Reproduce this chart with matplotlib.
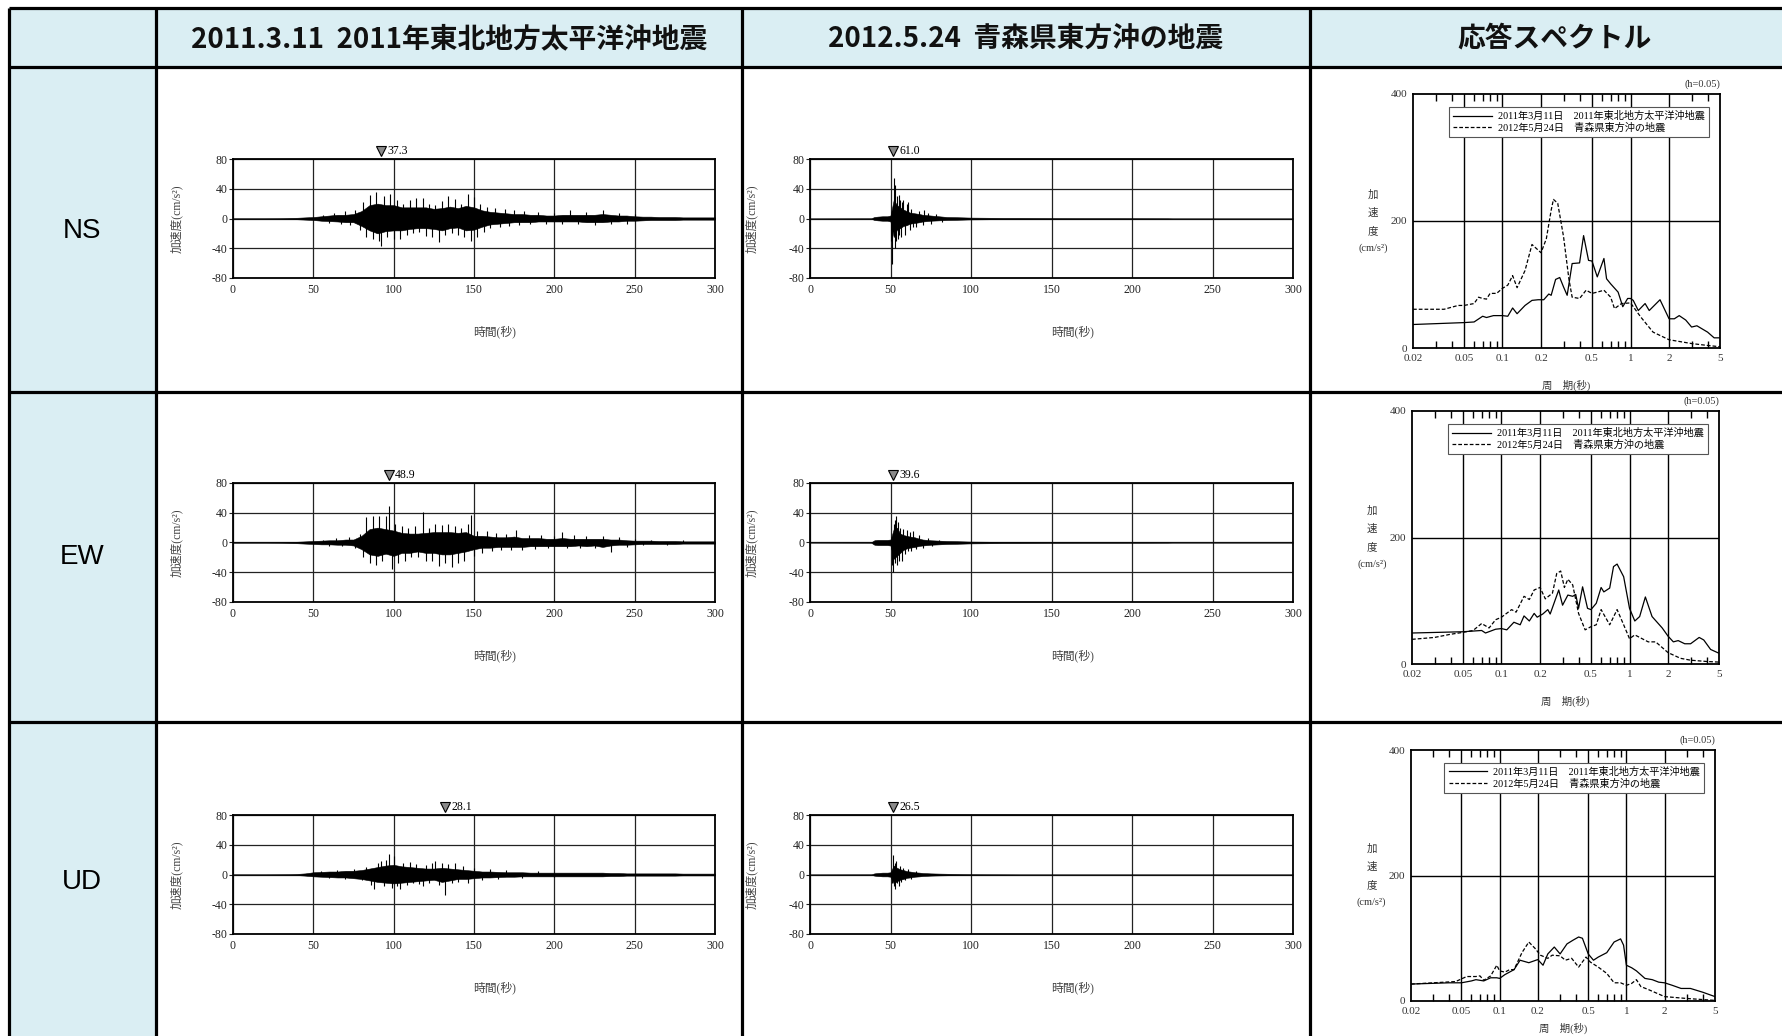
import numpy as np
import matplotlib
matplotlib.use("Agg")
import matplotlib.pyplot as plt
from matplotlib.patches import Rectangle
from matplotlib.ticker import LogLocator, NullFormatter
import matplotlib.transforms as mtrans

############### Data ###############

header_titles = ["2011.3.11  2011年東北地方太平洋沖地震",
                 "2012.5.24  青森県東方沖の地震",
                 "応答スペクトル"]
components = ["NS", "EW", "UD"]
legend_labels = ["2011年3月11日　2011年東北地方太平洋沖地震",
                 "2012年5月24日　青森県東方沖の地震"]

##### acceleration records (cm/s2): dense core of the trace + individual peaks
t_2011 = np.arange(0, 301, 5)

ns_2011_up = [0.3, 0.3, 0.3, 0.3, 0.3, 0.4, 0.5, 0.8, 1, 1.5, 2, 3, 4, 5, 5, 6, 10, 18, 20, 18,
              18, 15, 15, 15, 15, 13, 14, 16, 14, 17, 15, 11, 9, 8, 7, 6, 6, 5, 5, 4,
              4, 5, 5, 5, 5, 5, 6, 5, 4, 4, 3, 2.5, 2.5, 2, 2, 2, 1.5, 1.5, 1.5, 1.5, 1.5]
ns_2011_lo = [-0.3, -0.3, -0.3, -0.3, -0.3, -0.4, -0.5, -0.8, -1, -1.5, -2, -3, -3.5, -4, -5, -5, -10, -16, -20, -17,
              -16, -16, -14, -13, -13, -14, -16, -13, -12, -16, -15, -11, -8, -7, -6, -5, -5, -5, -4, -4,
              -4, -4, -4, -4, -5, -5, -5, -4, -4, -3, -3, -2.5, -2, -2, -2, -2, -1.5, -1.5, -1.5, -1.5, -1.5]
ns_2011_spk_t = [56, 60, 63, 67, 70, 73, 76, 79, 81, 83, 85, 87, 89, 91, 92, 94, 96, 98, 100, 102,
                 104, 106, 108, 110, 112, 114, 116, 118, 120, 122, 124, 126, 128, 130, 132, 134, 136, 138, 140, 142,
                 144, 146, 148, 150, 152, 154, 156, 158, 160, 163, 166, 169, 172, 175, 178, 181, 185, 190, 195, 200,
                 205, 210, 215, 220, 225, 230, 235, 240, 245, 250]
ns_2011_spk_v = [5, -6, 8, -7, 10, -9, 12, -15, 22, -25, 32, -28, 35, -30, -37.3, 30, -25, 33, -27, 25,
                 -28, 20, -22, 25, -20, 27, -18, 28, -23, 20, -25, 18, -32, 24, -22, 30, -20, 26, -22, 20,
                 -25, 33, -30, 29, -25, 20, -18, 15, -13, 14, -12, 13, -10, 11, -9, 10, -8, 9, -7, 8,
                 -8, 11, -8, 9, -9, 12, -8, 8, -8, 6]

ew_2011_up = [0.3, 0.3, 0.3, 0.3, 0.3, 0.4, 0.5, 0.8, 1, 1.5, 2, 2.5, 3, 3, 4, 4, 9, 18, 20, 18,
              16, 13, 12, 12, 13, 14, 14, 14, 13, 14, 9, 9, 8, 7, 7, 8, 6, 6, 6, 5,
              5, 6, 5, 5, 5, 5, 5, 4, 4, 3, 2.5, 2.5, 2.5, 2, 2, 2, 1.5, 1.5, 1.5, 1.5, 1.5]
ew_2011_lo = [-0.3, -0.3, -0.3, -0.3, -0.3, -0.4, -0.5, -0.8, -1, -1.5, -2, -2.5, -2.5, -3, -3, -4, -9, -16, -18, -15,
              -18, -14, -14, -12, -14, -14, -16, -16, -14, -12, -9, -7, -7, -6, -6, -6, -6, -5, -5, -5,
              -5, -5, -5, -4, -5, -4, -6, -4, -3, -3, -2.5, -2, -2, -2, -2, -2, -1.5, -1.5, -1.5, -1.5, -1.5]
ew_2011_spk_t = [56, 60, 64, 68, 72, 76, 79, 81, 83, 85, 87, 89, 91, 93, 95, 97, 99, 101, 103, 105,
                 107, 109, 111, 113, 115, 118, 120, 122, 124, 126, 128, 130, 132, 134, 136, 138, 140, 142, 144, 146,
                 148, 150, 152, 155, 158, 161, 164, 167, 170, 173, 176, 180, 184, 188, 192, 196, 200, 205, 208, 212,
                 216, 220, 225, 230, 235, 240, 245, 250, 255, 260, 270, 280]
ew_2011_spk_v = [4, -5, 6, -5, 7, -7, 12, -20, 34, -28, 36, -30, 35, -25, 36, 48.9, -36, 25, -28, 22,
                 -25, 20, -20, 22, -20, 41, -25, 20, -25, 25, -32, 24, -28, 25, -33, 22, -27, 20, -25, 25,
                 37, -18, 15, -14, 15, -12, 13, -10, 12, -10, 17, -10, 10, -9, 10, -8, 9, 14, -8, 10,
                 -7, 9, -8, 9, -13, 7, -6, 5, -4, 4, -4, 3]

ud_2011_up = [0.2, 0.2, 0.2, 0.2, 0.2, 0.3, 0.4, 0.5, 0.8, 1.5, 3, 3.5, 4, 4, 5, 5, 6, 8, 10, 12,
              13, 11, 10, 9, 8, 8, 9, 8, 7, 6, 5, 4, 4, 3.5, 3, 3, 3, 2.5, 2.5, 2.5,
              2.5, 2.5, 2.5, 2.5, 2.5, 2.5, 2.5, 2, 2, 1.5, 1.5, 1.5, 1.5, 1.5, 1.5, 1.5, 1.2, 1.2, 1.2, 1.2, 1.2]
ud_2011_lo = [-0.2, -0.2, -0.2, -0.2, -0.2, -0.3, -0.4, -0.5, -0.8, -1.5, -2.5, -3, -3.5, -4, -4, -5, -6, -8, -10, -11,
              -12, -11, -10, -9, -8, -7, -10, -8, -6, -6, -5, -4, -4, -3.5, -3, -3, -2.5, -2.5, -2.5, -2.5,
              -2.5, -2.5, -2.5, -2.5, -2.5, -2.5, -2.5, -2, -2, -1.5, -1.5, -1.5, -1.5, -1.5, -1.5, -1.5, -1.2, -1.2, -1.2, -1.2, -1.2]
ud_2011_spk_t = [55, 60, 65, 70, 75, 80, 83, 86, 88, 90, 92, 94, 95, 97, 99, 100, 102, 104, 106, 108,
                 110, 112, 114, 116, 118, 120, 122, 124, 126, 128, 130, 132, 134, 136, 138, 140, 143, 146, 150, 155,
                 160, 165, 170, 180, 190, 200]
ud_2011_spk_v = [5, -5, 6, -6, 7, -8, 10, -14, -20, 15, 18, -15, 20, 27, -18, 25, -15, -20, 15, -14,
                 17, -12, 14, -13, -16, 13, -12, 15, 18, -14, 15, -28.1, 14, -12, 15, -10, 11, -12, 9, -8,
                 8, -6, 6, -5, 5, -4]

t_2012 = [0, 38, 40, 42, 45, 48, 50, 52, 54, 56, 58, 60, 62, 65, 68, 70, 75, 80, 85, 90,
          95, 100, 110, 120, 130, 140, 150, 170, 190, 210, 222, 225, 300]

ns_2012_up = [0, 0.3, 2, 2.5, 3, 3, 4, 25, 18, 15, 12, 10, 8, 7, 6, 5, 4, 3, 2, 1.8,
              1.5, 1.2, 1, 0.8, 0.8, 0.7, 0.6, 0.5, 0.5, 0.4, 0.3, 0, 0]
ns_2012_lo = [0, -0.3, -2, -2.5, -3, -3, -4, -25, -15, -13, -10, -9, -7, -6, -5, -4, -3, -2.5, -2, -1.8,
              -1.5, -1.2, -1, -0.8, -0.8, -0.7, -0.6, -0.5, -0.5, -0.4, -0.3, 0, 0]
ns_2012_spk_t = [50.5, 51, 52, 52.5, 53, 53.5, 54, 54.5, 55, 55.5, 56, 56.5, 57, 58, 59, 60, 61, 62, 63, 64,
                 66, 68, 70, 71, 73, 75, 78, 82]
ns_2012_spk_v = [-30, -61, 55, -40, 45, -30, 30, -28, 32, -22, 25, -25, 22, 25, -22, 20, 22, -15, 13, -12,
                 -11, 10, -9, 11, 8, -7, 6, -5]

ew_2012_up = [0, 0.3, 3, 3.5, 3.5, 3.5, 4, 18, 20, 12, 10, 9, 8, 7, 5, 4, 3, 2.5, 2, 1.8,
              1.5, 1.2, 1, 0.8, 0.8, 0.7, 0.6, 0.5, 0.5, 0.4, 0.3, 0, 0]
ew_2012_lo = [0, -0.3, -3, -3.5, -3.5, -3.5, -4, -22, -18, -14, -10, -8, -7, -6, -4.5, -4, -3, -2.5, -2, -1.8,
              -1.5, -1.2, -1, -0.8, -0.8, -0.7, -0.6, -0.5, -0.5, -0.4, -0.3, 0, 0]
ew_2012_spk_t = [51, 51.5, 52, 52.5, 53, 53.5, 54, 54.5, 55, 56, 57, 58, 59, 60, 61, 62, 63, 64, 66, 68,
                 70, 73, 76, 80]
ew_2012_spk_v = [-30, -39.6, 25, -28, 30, 35, -30, 28, -25, 20, -25, 18, -15, 17, -12, 14, -12, 15, -9, 10,
                 -7, 6, -5, 4]

ud_2012_up = [0, 0.2, 1.5, 2, 2.5, 2.5, 3, 12, 9, 7, 6, 4.5, 4, 3, 2.5, 2, 1.5, 1.2, 1, 0.8,
              0.6, 0.5, 0.3, 0.2, 0, 0, 0, 0, 0, 0, 0, 0, 0]
ud_2012_lo = [0, -0.2, -1.5, -2, -2.5, -2.5, -3, -12, -9, -7, -6, -4.5, -4, -3, -2.5, -2, -1.5, -1.2, -1, -0.8,
              -0.6, -0.5, -0.3, -0.2, 0, 0, 0, 0, 0, 0, 0, 0, 0]
ud_2012_spk_t = [51, 51.5, 52, 52.5, 53, 53.5, 54, 55, 56, 56.5, 58, 59, 61, 63, 66]
ud_2012_spk_v = [-12, 26.5, -15, -20, 15, 18, -12, -15, 12, -10, 9, -8, 7, -6, 5]

##### peak acceleration markers (time of peak, label)
peak_t = [[92, 51.7], [97, 51.7], [132, 51.5]]
peak_labels = [["37.3", "61.0"], ["48.9", "39.6"], ["28.1", "26.5"]]

##### response spectra (h=0.05): period (s), acceleration (cm/s2)
ns_T_2011 = [0.02, 0.05, 0.06, 0.07, 0.075, 0.085, 0.1, 0.11, 0.12, 0.13, 0.15, 0.17, 0.19, 0.21, 0.23, 0.24,
             0.26, 0.28, 0.3, 0.32, 0.35, 0.4, 0.43, 0.47, 0.5, 0.55, 0.62, 0.65, 0.7, 0.8, 0.87, 0.95,
             1.0, 1.05, 1.15, 1.3, 1.4, 1.7, 2.0, 2.2, 2.4, 2.7, 3.0, 3.3, 4.0, 4.5, 5.0]
ns_Sa_2011 = [37, 40, 41, 50, 48, 51, 51, 50, 63, 54, 67, 75, 76, 76, 85, 83,
              108, 111, 96, 83, 133, 134, 177, 138, 137, 112, 141, 109, 101, 88, 65, 78,
              78, 75, 59, 70, 59, 76, 46, 46, 51, 44, 33, 35, 25, 16, 16]
ns_T_2012 = [0.02, 0.035, 0.045, 0.05, 0.06, 0.065, 0.07, 0.075, 0.08, 0.09, 0.1, 0.11, 0.12, 0.13,
             0.15, 0.17, 0.2, 0.22, 0.24, 0.25, 0.27, 0.3, 0.33, 0.35, 0.4, 0.45, 0.5, 0.55, 0.62,
             0.7, 0.75, 0.85, 1.0, 1.2, 1.5, 2.0, 3.0, 4.0, 5.0]
ns_Sa_2012 = [61, 61, 67, 67, 70, 80, 78, 77, 86, 86, 94, 99, 114, 95,
              122, 163, 150, 172, 217, 234, 228, 175, 109, 80, 78, 91, 86, 88, 91,
              80, 62, 70, 71, 49, 25, 13, 7, 4, 2]

ew_T_2011 = [0.02, 0.05, 0.07, 0.075, 0.09, 0.1, 0.11, 0.125, 0.14, 0.15, 0.165, 0.18, 0.19, 0.21, 0.23,
             0.24, 0.28, 0.3, 0.33, 0.36, 0.38, 0.4, 0.43, 0.47, 0.5, 0.55, 0.6, 0.63, 0.7, 0.75,
             0.8, 0.9, 1.0, 1.1, 1.2, 1.33, 1.5, 1.8, 2.0, 2.2, 2.4, 2.7, 3.0, 3.5, 3.8, 4.3, 5.0]
ew_Sa_2011 = [49, 51, 53, 49, 55, 56, 54, 66, 62, 76, 68, 80, 74, 79, 86,
              79, 117, 93, 109, 107, 110, 88, 122, 88, 86, 96, 121, 114, 120, 154,
              158, 138, 88, 68, 75, 106, 75, 57, 44, 35, 37, 32, 32, 42, 38, 23, 17]
ew_T_2012 = [0.02, 0.03, 0.04, 0.05, 0.06, 0.07, 0.08, 0.09, 0.1, 0.12, 0.13, 0.15, 0.165, 0.18, 0.2,
             0.22, 0.25, 0.27, 0.29, 0.31, 0.33, 0.36, 0.4, 0.45, 0.5, 0.55, 0.6, 0.7, 0.8, 0.9,
             1.0, 1.1, 1.4, 1.6, 2.0, 2.5, 3.0, 4.0, 5.0]
ew_Sa_2012 = [39, 42, 47, 50, 53, 64, 57, 70, 74, 86, 82, 107, 102, 117, 121,
              103, 112, 143, 147, 121, 134, 125, 80, 54, 59, 62, 86, 62, 86, 62,
              40, 46, 35, 35, 18, 9, 6, 4, 3]

ud_T_2011 = [0.02, 0.04, 0.05, 0.06, 0.065, 0.075, 0.085, 0.095, 0.1, 0.11, 0.13, 0.145, 0.17, 0.2,
             0.22, 0.24, 0.27, 0.3, 0.34, 0.38, 0.42, 0.45, 0.5, 0.55, 0.6, 0.7, 0.8, 0.9, 0.95,
             1.0, 1.1, 1.2, 1.4, 1.6, 1.8, 2.0, 2.3, 2.7, 3.2, 4.0, 5.0]
ud_Sa_2011 = [27, 29, 29, 32, 34, 32, 37, 37, 36, 42, 50, 65, 61, 66,
              57, 75, 86, 75, 91, 97, 102, 100, 75, 65, 70, 77, 94, 99, 89,
              57, 53, 48, 36, 34, 30, 29, 25, 20, 20, 14, 7]
ud_T_2012 = [0.02, 0.045, 0.055, 0.065, 0.07, 0.075, 0.085, 0.095, 0.1, 0.11, 0.12, 0.13, 0.15, 0.17,
             0.19, 0.21, 0.24, 0.26, 0.3, 0.33, 0.37, 0.42, 0.48, 0.52, 0.6, 0.7, 0.8, 0.9,
             1.0, 1.1, 1.2, 1.3, 1.5, 2.0, 3.0, 5.0]
ud_Sa_2012 = [27, 31, 39, 39, 40, 33, 40, 57, 48, 46, 50, 50, 77, 94,
              84, 73, 68, 73, 72, 65, 68, 54, 70, 62, 54, 44, 29, 29,
              25, 28, 34, 23, 18, 7, 4, 1]

############### Layout (pixels) ###############

W, H = 1782, 1036
SERIF = ["Liberation Serif", "Noto Sans CJK JP"]
GOTHIC = ["Noto Sans CJK JP", "DejaVu Sans"]
HEAD_BG = "#DAEEF3"

col_x = [9, 156, 742, 1310]
row_y = [8, 67, 392, 722]
wave_cols = [(233, 715), (810, 1293)]
wave_rows = [(159, 278), (483, 602), (815, 934)]
spec_boxes = [(1413, 94, 1720, 348), (1412, 411, 1719, 664), (1411, 750, 1715, 1001)]
spec_xlab_y = [-0.125, -0.125, -0.085]

plt.rcParams["font.family"] = SERIF
plt.rcParams["axes.unicode_minus"] = False


def px_axes(fig, x0, y0, x1, y1):
    return fig.add_axes([x0 / W, 1 - y1 / H, (x1 - x0) / W, (y1 - y0) / H])


def draw_wave(ax, t, up, lo, spk_t, spk_v, pk_t, pk_label, ylab_x):
    ax.fill_between(t, lo, up, color="black", lw=0.4, zorder=3)
    ax.vlines(spk_t, 0, spk_v, color="black", lw=0.8, zorder=3)
    ax.set_xlim(0, 300)
    ax.set_ylim(-80, 80)
    ax.set_xticks(range(0, 301, 50))
    ax.set_yticks([-80, -40, 0, 40, 80])
    ax.grid(True, color="#222222", lw=0.9, zorder=1)
    ax.set_axisbelow(True)
    for s in ax.spines.values():
        s.set_linewidth(1.3)
    ax.tick_params(axis="y", length=3, width=0.8, pad=1, labelsize=8.5, colors="#222222")
    ax.tick_params(axis="x", length=0, pad=4, labelsize=8.5, colors="#222222")
    ax.set_ylabel("加速度(cm/s²)", fontsize=8.5, color="#444444")
    ax.yaxis.set_label_coords(ylab_x, 0.5)
    ax.set_xlabel("時間(秒)", fontsize=8.5, color="#444444")
    ax.xaxis.set_label_coords(0.543, -0.40)
    trans = mtrans.blended_transform_factory(ax.transData, ax.transAxes)
    ax.plot([pk_t], [1.065], marker="v", ms=7, mfc="#8a8a8a", mec="black", mew=0.8,
            transform=trans, clip_on=False)
    ax.text(pk_t + 4, 1.07, pk_label, transform=trans, fontsize=8.5, va="center", ha="left")


def draw_spectrum(ax, T1, S1, T2, S2, xlab_y):
    ax.plot(T1, S1, color="black", lw=0.9, label=legend_labels[0], zorder=3)
    ax.plot(T2, S2, color="black", lw=0.9, ls=(0, (3, 1.6)), label=legend_labels[1], zorder=3)
    ax.set_xscale("log")
    ax.set_xlim(0.02, 5)
    ax.set_ylim(0, 400)
    ticks = [0.02, 0.05, 0.1, 0.2, 0.5, 1, 2, 5]
    ax.set_xticks(ticks)
    ax.set_xticklabels(["0.02", "0.05", "0.1", "0.2", "0.5", "1", "2", "5"])
    ax.xaxis.set_minor_locator(LogLocator(base=10, subs=np.arange(2, 10) * 1.0, numticks=20))
    ax.xaxis.set_minor_formatter(NullFormatter())
    ax.set_yticks([0, 200, 400])
    for v in ticks[1:-1]:
        ax.axvline(v, color="black", lw=1.0, zorder=1)
    ax.axhline(200, color="black", lw=1.0, zorder=1)
    for s in ax.spines.values():
        s.set_linewidth(1.3)
    ax.tick_params(which="major", length=0, pad=4, labelsize=8, colors="#333333")
    ax.tick_params(which="minor", direction="in", top=True, bottom=True, length=5, width=1.0)
    ax.text(-0.13, 0.5, "加\n速\n度\n(cm/s²)", transform=ax.transAxes, ha="center",
            va="center", linespacing=2.0, fontsize=7.5, color="#333333")
    ax.text(1.0, 1.02, "(h=0.05)", transform=ax.transAxes, ha="right", va="bottom",
            fontsize=7.5, color="#333333")
    ax.set_xlabel("周　期(秒)", fontsize=7.5, color="#333333")
    ax.xaxis.set_label_coords(0.5, xlab_y)
    leg = ax.legend(loc="upper right", bbox_to_anchor=(0.964, 0.949), borderaxespad=0,
                    fontsize=7.3, handlelength=3.8, handletextpad=0.6, labelspacing=0.15,
                    borderpad=0.4, fancybox=False, framealpha=1, edgecolor="#555555")
    leg.get_frame().set_linewidth(0.8)


############### Plotting ###############

fig = plt.figure(figsize=(W / 100, H / 100), dpi=100)
bg = fig.add_axes([0, 0, 1, 1])
bg.set_xlim(0, W)
bg.set_ylim(H, 0)
bg.axis("off")

### table cells
bg.add_patch(Rectangle((col_x[0], row_y[0]), W, row_y[1] - row_y[0], color=HEAD_BG, zorder=0))
bg.add_patch(Rectangle((col_x[0], row_y[1]), col_x[1] - col_x[0], H, color=HEAD_BG, zorder=0))
for y in row_y:
    bg.plot([col_x[0], W + 5], [y, y], color="black", lw=2.3, solid_capstyle="butt")
for x in col_x:
    bg.plot([x, x], [row_y[0], H + 5], color="black", lw=2.3, solid_capstyle="butt")

head_cx = [449, 1026, 1555]
for cx, title in zip(head_cx, header_titles):
    bg.text(cx, 39, title, ha="center", va="center", fontsize=20, fontweight="bold",
            family=GOTHIC, color="#111111")

row_cy = [231, 557, 882]
for cy, comp in zip(row_cy, components):
    bg.text(82, cy, comp, ha="center", va="center", fontsize=20,
            family=["Liberation Sans", "DejaVu Sans"])

### acceleration time histories
waves = [
    [(ns_2011_up, ns_2011_lo, ns_2011_spk_t, ns_2011_spk_v),
     (ns_2012_up, ns_2012_lo, ns_2012_spk_t, ns_2012_spk_v)],
    [(ew_2011_up, ew_2011_lo, ew_2011_spk_t, ew_2011_spk_v),
     (ew_2012_up, ew_2012_lo, ew_2012_spk_t, ew_2012_spk_v)],
    [(ud_2011_up, ud_2011_lo, ud_2011_spk_t, ud_2011_spk_v),
     (ud_2012_up, ud_2012_lo, ud_2012_spk_t, ud_2012_spk_v)],
]
times = [t_2011, t_2012]
ylab_xs = [-0.104, -0.108]

for r, (y0, y1) in enumerate(wave_rows):
    for c, (x0, x1) in enumerate(wave_cols):
        ax = px_axes(fig, x0, y0, x1, y1)
        up, lo, st, sv = waves[r][c]
        draw_wave(ax, times[c], up, lo, st, sv, peak_t[r][c], peak_labels[r][c], ylab_xs[c])

### response spectra
spectra = [(ns_T_2011, ns_Sa_2011, ns_T_2012, ns_Sa_2012),
           (ew_T_2011, ew_Sa_2011, ew_T_2012, ew_Sa_2012),
           (ud_T_2011, ud_Sa_2011, ud_T_2012, ud_Sa_2012)]
for box, spec, xly in zip(spec_boxes, spectra, spec_xlab_y):
    ax = px_axes(fig, *box)
    draw_spectrum(ax, *spec, xly)

fig.savefig("out.png", dpi=100)
